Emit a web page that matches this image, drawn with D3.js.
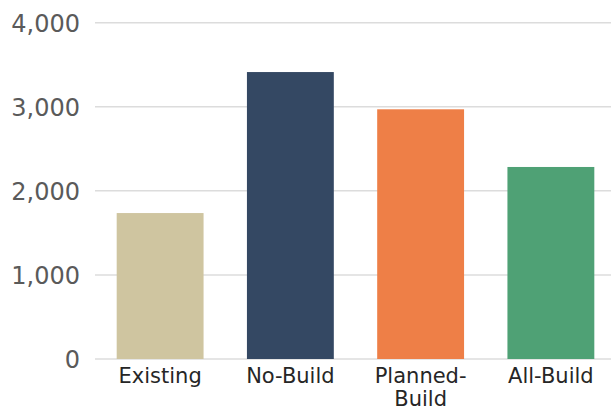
<!DOCTYPE html>
<html><head><meta charset="utf-8">
<script src="https://cdn.jsdelivr.net/npm/d3@7"></script>
<style>html,body{margin:0;padding:0;background:#fff;}svg{display:block;}</style>
</head><body>
<script>
const categories = ["Existing", "No-Build", "Planned-Build", "All-Build"];
const labelLines = [["Existing"], ["No-Build"], ["Planned-", "Build"], ["All-Build"]];
const values = [1736, 3413, 2970, 2284];
const colors = ["#cfc5a0", "#344863", "#ee7f47", "#4fa175"];
const yTicks = [0, 1000, 2000, 3000, 4000];

const W = 611, H = 411;
const svg = d3.select("body").append("svg").attr("width", W).attr("height", H);

const x = d3.scaleBand().domain(categories).range([95, 616]).paddingInner(0.333).paddingOuter(0.1665);
const y = d3.scaleLinear().domain([0, 4000]).range([359, 22.7]);

// gridlines
svg.append("g").selectAll("line").data(yTicks).join("line")
  .attr("x1", 95).attr("x2", W)
  .attr("y1", d => y(d)).attr("y2", d => y(d))
  .attr("stroke", "#dcdcdc").attr("stroke-width", 1.5);

// y labels
const yAxis = d3.axisLeft(y).tickValues(yTicks).tickFormat(d3.format(",")).tickSize(0).tickPadding(0);
const gy = svg.append("g").attr("transform", "translate(80,0)").call(yAxis);
gy.select(".domain").remove();
gy.selectAll("text").attr("font-family", "DejaVu Sans, sans-serif")
  .attr("font-size", 24).attr("fill", "#5a5a5a").attr("dy", "0.36em");

// bars
svg.append("g").selectAll("rect").data(categories).join("rect")
  .attr("x", d => x(d)).attr("width", x.bandwidth())
  .attr("y", (d, i) => y(values[i])).attr("height", (d, i) => y(0) - y(values[i]))
  .attr("fill", (d, i) => colors[i]);

// x labels
const gx = svg.append("g");
categories.forEach((c, i) => {
  const t = gx.append("text")
    .attr("x", x(c) + x.bandwidth() / 2).attr("y", 383)
    .attr("text-anchor", "middle")
    .attr("font-family", "DejaVu Sans, sans-serif")
    .attr("font-size", 21).attr("fill", "#262626");
  labelLines[i].forEach((l, j) => {
    t.append("tspan").attr("x", x(c) + x.bandwidth() / 2).attr("dy", j === 0 ? 0 : 23).text(l);
  });
});
</script>
</body></html>
